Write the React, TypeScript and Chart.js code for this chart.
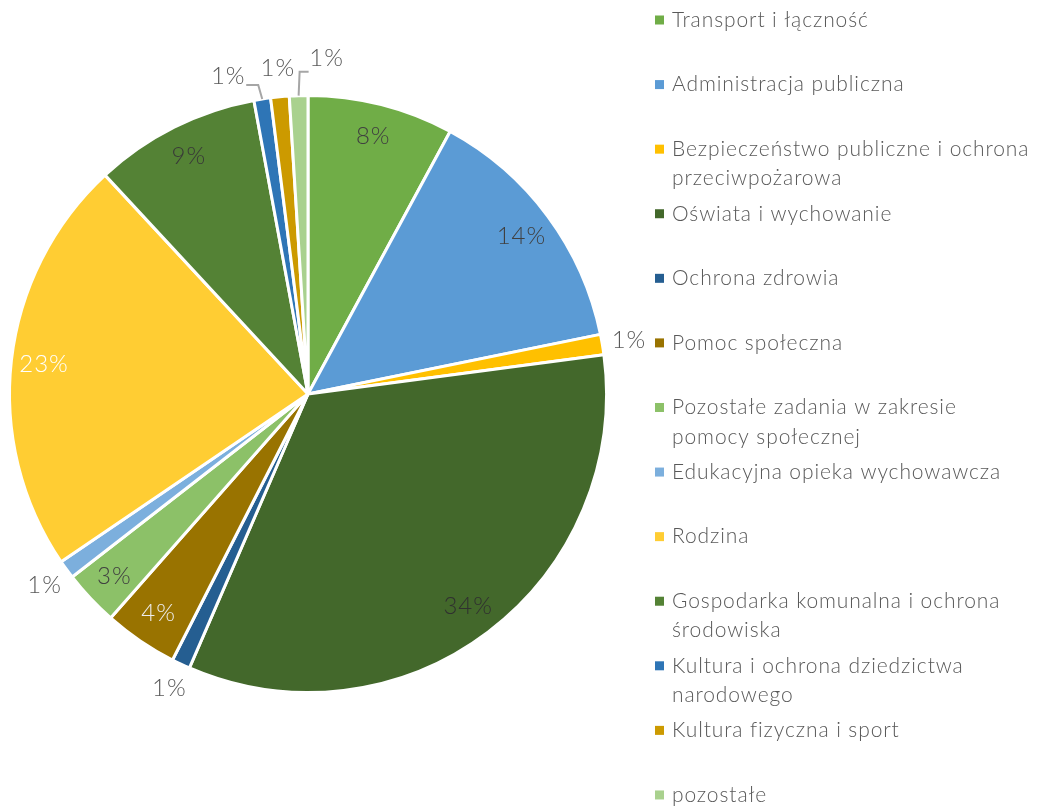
import { useEffect, useRef } from 'react';
import { Chart, registerables } from 'chart.js';

Chart.register(...registerables);

const categories: string[][] = [
  ['Transport i łączność'],
  ['Administracja publiczna'],
  ['Bezpieczeństwo publiczne i ochrona', 'przeciwpożarowa'],
  ['Oświata i wychowanie'],
  ['Ochrona zdrowia'],
  ['Pomoc społeczna'],
  ['Pozostałe zadania w zakresie', 'pomocy społecznej'],
  ['Edukacyjna opieka wychowawcza'],
  ['Rodzina'],
  ['Gospodarka komunalna i ochrona', 'środowiska'],
  ['Kultura i ochrona dziedzictwa', 'narodowego'],
  ['Kultura fizyczna i sport'],
  ['pozostałe'],
];

const shares = [7.9, 13.9, 1.1, 33.6, 1.0, 4.0, 3.0, 1.0, 22.6, 9.0, 0.9, 1.0, 1.0];

const percentLabels = ['8%', '14%', '1%', '34%', '1%', '4%', '3%', '1%', '23%', '9%', '1%', '1%', '1%'];

const sliceColors = [
  '#70AD47', '#5B9BD5', '#FFC000', '#43682B', '#255E91', '#997300', '#8CC168',
  '#7CAFDD', '#FFCD33', '#548235', '#2E75B6', '#CC9A00', '#A9D18E',
];

const labelColors = [
  '#404040', '#404040', '#595959', '#303030', '#595959', '#EDEDED', '#404040',
  '#595959', '#FFFFFF', '#383838', '#595959', '#595959', '#595959',
];

// 'in' = inside the slice, 'out' = just outside the rim, 'call' = callout above
const labelModes = ['in', 'in', 'out', 'in', 'out', 'in', 'in', 'out', 'in', 'in', 'call', 'call', 'call'];

// callout label offsets (relative to rim midpoint) and leader paths
const calloutOffsets: Record<number, [number, number]> = { 10: [-34, -23], 11: [-2, -29], 12: [28, -37] };
const calloutLeaders: Record<number, [number, number][]> = {
  10: [[0, 0], [-4, -14], [-16, -14]],
  12: [[0, 0], [1, -24], [10, -24]],
};

const FONT = 'Lato, "Open Sans", sans-serif';

const labelsPlugin = {
  id: 'sliceLabels',
  afterDatasetsDraw(chart: any) {
    const ctx = chart.ctx;
    const meta = chart.getDatasetMeta(0);
    ctx.save();
    ctx.font = `300 24px ${FONT}`;
    ctx.letterSpacing = '1px';
    ctx.textAlign = 'center';
    ctx.textBaseline = 'middle';
    meta.data.forEach((arc: any, i: number) => {
      const { x, y, startAngle, endAngle, outerRadius } = arc.getProps(
        ['x', 'y', 'startAngle', 'endAngle', 'outerRadius'], true);
      const mid = (startAngle + endAngle) / 2;
      const cx = Math.cos(mid);
      const cy = Math.sin(mid);
      let lx: number;
      let ly: number;
      const mode = labelModes[i];
      if (mode === 'in') {
        lx = x + cx * outerRadius * 0.89;
        ly = y + cy * outerRadius * 0.89;
      } else if (mode === 'out') {
        lx = x + cx * (outerRadius + 27);
        ly = y + cy * (outerRadius + 27);
      } else {
        const ax = x + cx * outerRadius;
        const ay = y + cy * outerRadius;
        const off = calloutOffsets[i];
        lx = ax + off[0];
        ly = ay + off[1];
        const path = calloutLeaders[i];
        if (path) {
          ctx.strokeStyle = '#A6A6A6';
          ctx.lineWidth = 2;
          ctx.beginPath();
          path.forEach((p, k) => {
            if (k === 0) ctx.moveTo(ax + p[0], ay + p[1]);
            else ctx.lineTo(ax + p[0], ay + p[1]);
          });
          ctx.stroke();
        }
      }
      ctx.fillStyle = labelColors[i];
      ctx.fillText(percentLabels[i], lx, ly);
    });
    ctx.restore();
  },
};

const legendPlugin = {
  id: 'sideLegend',
  afterDraw(chart: any) {
    const ctx = chart.ctx;
    const labels: string[][] = chart.data.labels;
    const colors: string[] = chart.data.datasets[0].backgroundColor;
    const left = 655;
    const top = 20;
    const step = 64.58;
    const lineH = 29.5;
    ctx.save();
    ctx.font = `300 21px ${FONT}`;
    ctx.letterSpacing = '0.9px';
    ctx.textAlign = 'left';
    ctx.textBaseline = 'middle';
    labels.forEach((lines, i) => {
      const yy = top + i * step;
      ctx.fillStyle = colors[i];
      ctx.fillRect(left, yy - 4.5, 9, 9);
      ctx.fillStyle = '#595959';
      lines.forEach((t, k) => ctx.fillText(t, left + 17, yy + k * lineH));
    });
    ctx.restore();
  },
};

export default function App() {
  const ref = useRef<HTMLCanvasElement>(null);
  useEffect(() => {
    if (!ref.current) return;
    const chart = new Chart(ref.current, {
      type: 'pie',
      data: {
        labels: categories,
        datasets: [{
          data: shares,
          backgroundColor: sliceColors,
          borderColor: '#FFFFFF',
          borderWidth: 3,
          hoverOffset: 0,
          offset: 0,
        }],
      },
      options: {
        responsive: false,
        animation: false,
        layout: { padding: { left: 8, top: 94, right: 430, bottom: 113 } },
        plugins: {
          legend: { display: false },
          tooltip: { enabled: false },
        },
      },
      plugins: [labelsPlugin, legendPlugin],
    });
    return () => chart.destroy();
  }, []);
  return (
    <div style={{ position: 'absolute', left: 0, top: 0, width: 1038, height: 807, background: '#fff' }}>
      <canvas ref={ref} width={1038} height={807} />
    </div>
  );
}
